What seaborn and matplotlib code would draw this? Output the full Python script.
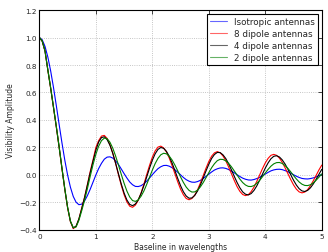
import numpy as np
import pandas as pd
import seaborn as sns
from matplotlib import pyplot as plt

# sample positions along the baseline (wavelengths)
baseline = np.linspace(0, 5, 101)

isotropic = [1.000, 0.984, 0.935, 0.858, 0.757, 0.637, 0.505, 0.368, 0.234, 0.109,
             0.000, -0.089, -0.156, -0.198, -0.216, -0.212, -0.189, -0.151, -0.104, -0.052,
             0.000, 0.047, 0.085, 0.115, 0.130, 0.132, 0.123, 0.103, 0.077, 0.044,
             0.010, -0.022, -0.051, -0.071, -0.083, -0.084, -0.078, -0.064, -0.045, -0.022,
             0.002, 0.025, 0.046, 0.060, 0.069, 0.070, 0.064, 0.053, 0.038, 0.020,
             0.001, -0.018, -0.034, -0.045, -0.052, -0.053, -0.048, -0.039, -0.026, -0.010,
             0.006, 0.022, 0.036, 0.045, 0.051, 0.052, 0.048, 0.040, 0.029, 0.016,
             0.002, -0.011, -0.023, -0.031, -0.036, -0.037, -0.033, -0.026, -0.017, -0.005,
             0.007, 0.019, 0.030, 0.037, 0.041, 0.042, 0.039, 0.032, 0.024, 0.013,
             0.002, -0.009, -0.018, -0.025, -0.028, -0.029, -0.026, -0.021, -0.014, -0.005,
             0.004]

dipole8 = [1.000, 0.973, 0.900, 0.762, 0.630, 0.490, 0.348, 0.200, 0.045, -0.105,
           -0.240, -0.340, -0.390, -0.375, -0.320, -0.240, -0.162, -0.070, 0.025, 0.110,
           0.200, 0.250, 0.283, 0.288, 0.266, 0.221, 0.159, 0.084, 0.003, -0.075,
           -0.143, -0.196, -0.227, -0.235, -0.219, -0.184, -0.132, -0.068, 0.002, 0.069,
           0.129, 0.175, 0.203, 0.210, 0.197, 0.167, 0.123, 0.068, 0.009, -0.050,
           -0.103, -0.144, -0.171, -0.180, -0.171, -0.147, -0.108, -0.059, -0.005, 0.049,
           0.098, 0.137, 0.161, 0.170, 0.162, 0.139, 0.104, 0.059, 0.010, -0.039,
           -0.084, -0.119, -0.142, -0.150, -0.143, -0.121, -0.088, -0.046, 0.000, 0.046,
           0.088, 0.121, 0.143, 0.150, 0.143, 0.123, 0.092, 0.053, 0.010, -0.033,
           -0.072, -0.103, -0.123, -0.130, -0.124, -0.106, -0.077, -0.042, -0.003, 0.037,
           0.072]

dipole4 = [1.000, 0.974, 0.902, 0.765, 0.633, 0.493, 0.352, 0.205, 0.050, -0.100,
           -0.235, -0.337, -0.385, -0.372, -0.320, -0.245, -0.165, -0.075, 0.015, 0.100,
           0.180, 0.240, 0.272, 0.278, 0.257, 0.216, 0.157, 0.086, 0.009, -0.065,
           -0.131, -0.182, -0.214, -0.223, -0.211, -0.181, -0.135, -0.078, -0.015, 0.049,
           0.107, 0.154, 0.186, 0.200, 0.194, 0.172, 0.135, 0.087, 0.032, -0.025,
           -0.078, -0.122, -0.153, -0.169, -0.167, -0.149, -0.117, -0.074, -0.023, 0.029,
           0.078, 0.120, 0.149, 0.164, 0.163, 0.147, 0.120, 0.082, 0.038, -0.009,
           -0.054, -0.093, -0.123, -0.140, -0.145, -0.135, -0.112, -0.079, -0.038, 0.006,
           0.050, 0.088, 0.118, 0.136, 0.140, 0.131, 0.110, 0.080, 0.042, 0.002,
           -0.038, -0.073, -0.100, -0.116, -0.120, -0.112, -0.093, -0.065, -0.032, 0.005,
           0.041]

dipole2 = [1.000, 0.975, 0.902, 0.765, 0.635, 0.495, 0.355, 0.205, 0.050, -0.100,
           -0.235, -0.335, -0.383, -0.378, -0.330, -0.260, -0.185, -0.100, -0.010, 0.075,
           0.150, 0.210, 0.250, 0.268, 0.264, 0.238, 0.195, 0.138, 0.073, 0.005,
           -0.060, -0.117, -0.160, -0.186, -0.192, -0.181, -0.155, -0.117, -0.069, -0.017,
           0.035, 0.083, 0.121, 0.147, 0.158, 0.154, 0.137, 0.109, 0.072, 0.030,
           -0.014, -0.054, -0.088, -0.112, -0.124, -0.123, -0.110, -0.087, -0.056, -0.020,
           0.017, 0.053, 0.082, 0.104, 0.114, 0.113, 0.103, 0.085, 0.060, 0.030,
           0.000, -0.030, -0.055, -0.073, -0.083, -0.084, -0.077, -0.061, -0.039, -0.013,
           0.015, 0.041, 0.064, 0.081, 0.090, 0.091, 0.084, 0.069, 0.048, 0.023,
           -0.004, -0.029, -0.051, -0.067, -0.076, -0.077, -0.071, -0.057, -0.038, -0.016,
           0.008]

series = [("Isotropic antennas", isotropic, "b"),
          ("8 dipole antennas", dipole8, "r"),
          ("4 dipole antennas", dipole4, "k"),
          ("2 dipole antennas", dipole2, "g")]

sns.set_style("white", {"axes.edgecolor": "black", "grid.color": "0.7",
                        "grid.linestyle": ":", "xtick.direction": "in",
                        "ytick.direction": "in"})
plt.rcParams['font.family'] = ['DejaVu Sans']

fig = plt.figure(figsize=(3.28, 2.53), dpi=100)
ax = fig.add_axes([0.12, 0.087, 0.861, 0.8695])

for name, vals, col in series:
    sns.lineplot(x=baseline, y=vals, color=col, lw=0.8, label=name, ax=ax)

ax.set_xlim(0, 5)
ax.set_ylim(-0.4, 1.2)
ax.set_yticks([-0.4, -0.2, 0.0, 0.2, 0.4, 0.6, 0.8, 1.0, 1.2])
ax.set_xticks([0, 1, 2, 3, 4, 5])
ax.grid(True, lw=0.6)
ax.tick_params(direction="in", length=3, width=0.6, labelsize=5.2,
               top=True, right=True, pad=2)
for sp in ax.spines.values():
    sp.set_linewidth(0.8)
ax.set_xlabel("Baseline in wavelengths", fontsize=5.5, labelpad=2)
ax.set_ylabel("Visibility Amplitude", fontsize=5.5, labelpad=3)

leg = ax.legend(loc="upper right", fontsize=6.3, fancybox=False, framealpha=1,
                edgecolor="black", borderaxespad=0.4, handlelength=2.0,
                labelspacing=0.35, borderpad=0.35)
leg.get_frame().set_linewidth(0.8)
for ln in leg.get_lines():
    ln.set_alpha(0.6)

fig.savefig("out.png", dpi=100)
